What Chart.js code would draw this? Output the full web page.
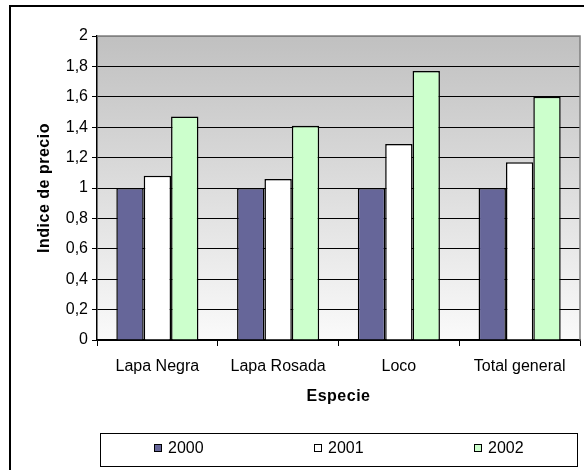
<!DOCTYPE html>
<html>
<head>
<meta charset="utf-8">
<script src="https://cdn.jsdelivr.net/npm/chart.js@4"></script>
<style>
html,body{margin:0;padding:0;background:#fff;}
canvas{display:block;}
</style>
</head>
<body>
<canvas id="c" width="584" height="470"></canvas>
<script>
const categories = ['Lapa Negra', 'Lapa Rosada', 'Loco', 'Total general'];
const seriesLabels = ['2000', '2001', '2002'];
const values2000 = [1, 1, 1, 1];
const values2001 = [1.08, 1.06, 1.29, 1.17];
const values2002 = [1.47, 1.41, 1.77, 1.60];
const yTickLabels = ['0', '0,2', '0,4', '0,6', '0,8', '1', '1,2', '1,4', '1,6', '1,8', '2'];
const xAxisTitle = 'Especie';
const yAxisTitle = 'Indice de precio';

const FONT = "'Liberation Sans', Arial, sans-serif";

const framePlugin = {
  id: 'frame',
  beforeDraw(chart) {
    const ctx = chart.ctx;
    const a = chart.chartArea;
    ctx.save();
    ctx.fillStyle = '#fff';
    ctx.fillRect(0, 0, chart.width, chart.height);
    const g = ctx.createLinearGradient(0, a.top, 0, a.bottom);
    g.addColorStop(0, '#C0C0C0');
    g.addColorStop(1, '#FAFAFA');
    ctx.fillStyle = g;
    ctx.fillRect(a.left, a.top, a.right - a.left, a.bottom - a.top);
    ctx.restore();
  },
  afterDraw(chart) {
    const ctx = chart.ctx;
    const a = chart.chartArea;
    ctx.save();
    ctx.strokeStyle = '#808080';
    ctx.lineWidth = 1.5;
    ctx.beginPath();
    ctx.moveTo(a.left, a.top);
    ctx.lineTo(a.right, a.top);
    ctx.lineTo(a.right, a.bottom);
    ctx.stroke();
    ctx.strokeStyle = '#000';
    ctx.lineWidth = 2;
    ctx.strokeRect(10, 6, 640, 520);
    // axis titles
    ctx.fillStyle = '#000';
    ctx.font = 'bold 16px ' + FONT;
    ctx.textAlign = 'center';
    ctx.textBaseline = 'middle';
    try { ctx.letterSpacing = '0.5px'; } catch (e) {}
    ctx.fillText(xAxisTitle, (a.left + a.right) / 2, 397);
    ctx.translate(45, (a.top + a.bottom) / 2);
    ctx.rotate(-Math.PI / 2);
    ctx.fillText(yAxisTitle, 0, 0);
    ctx.setTransform(1, 0, 0, 1, 0, 0);
    try { ctx.letterSpacing = '0px'; } catch (e) {}
    // legend
    ctx.strokeStyle = '#000';
    ctx.lineWidth = 1;
    ctx.strokeRect(100.5, 433.5, 477, 33);
    const xs = [154, 314, 474];
    ctx.font = '16px ' + FONT;
    ctx.textAlign = 'left';
    ctx.textBaseline = 'middle';
    chart.data.datasets.forEach((ds, i) => {
      ctx.fillStyle = ds.backgroundColor;
      ctx.fillRect(xs[i] + 0.5, 444.5, 7, 7);
      ctx.strokeStyle = '#000';
      ctx.strokeRect(xs[i] + 0.5, 444.5, 7, 7);
      ctx.fillStyle = '#000';
      ctx.fillText(ds.label, xs[i] + 14, 449);
    });
    ctx.restore();
  }
};

new Chart(document.getElementById('c'), {
  type: 'bar',
  data: {
    labels: categories,
    datasets: [
      { label: seriesLabels[0], data: values2000, backgroundColor: '#666699', borderColor: '#000', borderWidth: 1.5 },
      { label: seriesLabels[1], data: values2001, backgroundColor: '#FFFFFF', borderColor: '#000', borderWidth: 1.5 },
      { label: seriesLabels[2], data: values2002, backgroundColor: '#CCFFCC', borderColor: '#000', borderWidth: 1.5 }
    ]
  },
  options: {
    responsive: false,
    animation: false,
    devicePixelRatio: 1,
    categoryPercentage: 0.68,
    barPercentage: 1,
    layout: { padding: { left: 0, top: 36, right: 4, bottom: 62 } },
    plugins: {
      legend: { display: false },
      tooltip: { enabled: false }
    },
    scales: {
      x: {
        afterFit(s) { s.height = 68; },
        grid: {
          display: true,
          drawOnChartArea: false,
          drawTicks: true,
          tickLength: 6,
          tickColor: '#000',
          offset: true
        },
        border: { color: '#000', width: 1.5 },
        ticks: {
          color: '#000',
          font: { family: FONT, size: 16 },
          padding: 11,
          maxRotation: 0,
          autoSkip: false
        },
        title: { display: false, text: xAxisTitle }
      },
      y: {
        min: 0,
        max: 2,
        afterFit(s) { s.width = 97; },
        grid: {
          color: (c) => (c.tick && c.tick.value >= 2 ? '#808080' : '#000'),
          lineWidth: 1,
          tickLength: 5,
          tickColor: '#000'
        },
        border: { color: '#000', width: 1.5 },
        ticks: {
          stepSize: 0.2,
          color: '#000',
          font: { family: FONT, size: 16 },
          padding: 4,
          callback: (v, i) => yTickLabels[i]
        },
        title: { display: false, text: yAxisTitle }
      }
    }
  },
  plugins: [framePlugin]
});
</script>
</body>
</html>
